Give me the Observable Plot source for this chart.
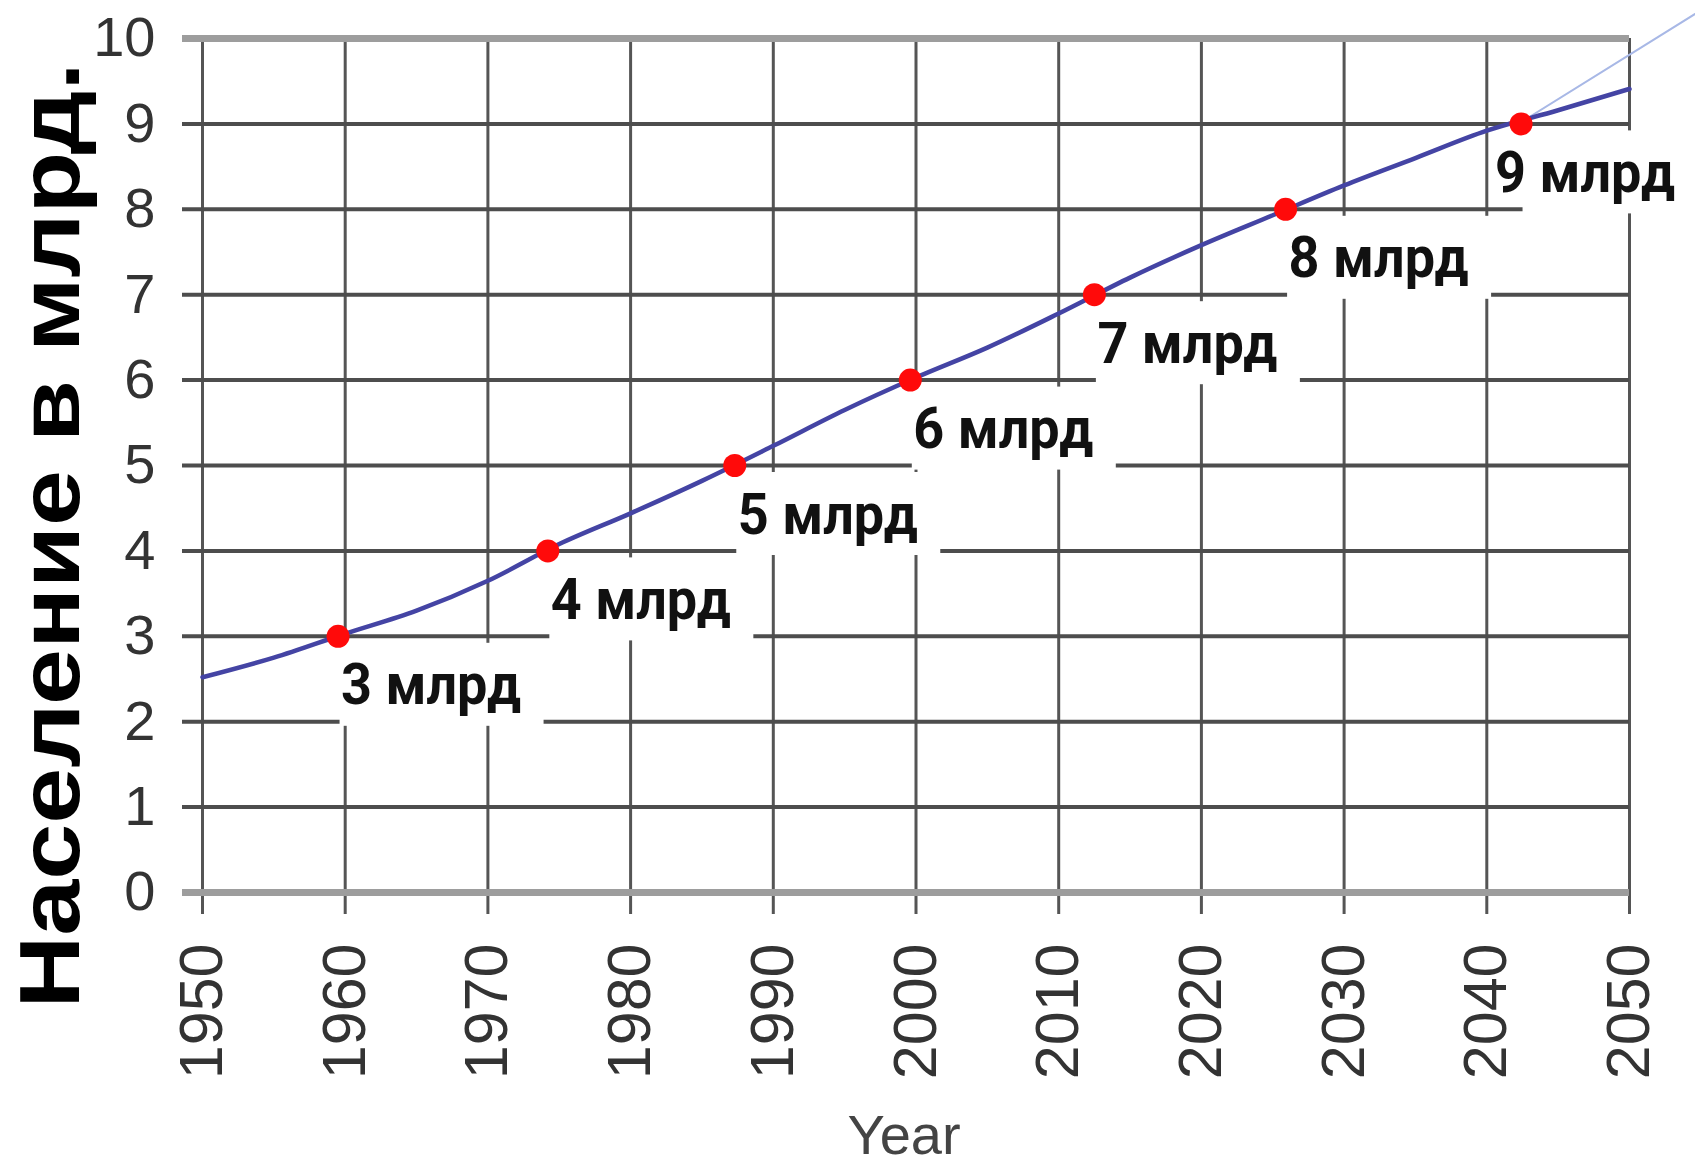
<!DOCTYPE html>
<html>
<head>
<meta charset="utf-8">
<script src="https://cdn.jsdelivr.net/npm/d3@7"></script>
<script src="https://cdn.jsdelivr.net/npm/@observablehq/plot@0.6"></script>
<style>
  html, body { margin: 0; padding: 0; background: #fff; }
  #chart svg { display: block; }
</style>
</head>
<body>
<div id="chart"></div>
<script>
// ---- data ----
const years = [1950, 1955, 1960, 1965, 1970, 1975, 1980, 1985, 1990, 1995, 2000,
               2005, 2010, 2015, 2020, 2025, 2030, 2035, 2040, 2045, 2050];
const population = [2.52, 2.75, 3.03, 3.3, 3.65, 4.08, 4.44, 4.82, 5.23, 5.65, 6.03,
                    6.38, 6.78, 7.2, 7.58, 7.93, 8.28, 8.6, 8.92, 9.16, 9.41];

const projectionYears = [2042.4, 2055];
const projectionValues = [9.02, 10.33];

const milestoneYears = [1959.5, 1974.2, 1987.3, 1999.6, 2012.5, 2025.9, 2042.4];
const milestoneValues = [3, 4, 5, 6, 7, 8, 9];
const milestoneLabels = ["3 млрд", "4 млрд", "5 млрд", "6 млрд", "7 млрд", "8 млрд", "9 млрд"];

const xTicks = [1950, 1960, 1970, 1980, 1990, 2000, 2010, 2020, 2030, 2040, 2050];
const yTicks = [0, 1, 2, 3, 4, 5, 6, 7, 8, 9, 10];
const yTitle = "Население в млрд.";
const xTitle = "Year";

// ---- tables built from the arrays ----
const series = years.map((y, i) => ({year: y, value: population[i]}));
const projection = projectionYears.map((y, i) => ({year: y, value: projectionValues[i]}));
const milestones = milestoneYears.map((y, i) => ({year: y, value: milestoneValues[i], label: milestoneLabels[i]}));
const innerY = yTicks.filter(v => v !== 0 && v !== 10);
const outerY = yTicks.filter(v => v === 0 || v === 10);
const lastValue = d3.max(milestoneValues);

const font = "'Liberation Sans', Arial, sans-serif";
const labelStyle = {x: "year", y: "value", text: "label", textAnchor: "start", lineAnchor: "bottom",
  dy: 68, fontSize: 58, fontWeight: "bold", fill: "#111", fontFamily: "Roboto, sans-serif"};

const chart = Plot.plot({
  width: 1695,
  height: 1164,
  marginLeft: 202,
  marginRight: 66,
  marginTop: 38,
  marginBottom: 272,
  style: {fontFamily: font, background: "#fff", overflow: "visible"},
  x: {domain: [1950, 2050]},
  y: {domain: [0, 10]},
  marks: [
    // grid
    Plot.ruleX(xTicks, {stroke: "#555", strokeWidth: 3, insetBottom: -22}),
    Plot.ruleY(innerY, {stroke: "#4d4d4d", strokeWidth: 4, insetLeft: -20}),
    Plot.ruleY(outerY, {stroke: "#9d9d9d", strokeWidth: 7, insetLeft: -20}),
    // white boxes behind labels
    Plot.rect(milestones, {x1: "year", x2: "year", y1: "value", y2: "value", fill: "white",
      insetLeft: 2, insetRight: -206, insetTop: 7, insetBottom: -90}),
    // axes
    Plot.axisY({ticks: yTicks, tickSize: 0, tickPadding: 47, fontSize: 56, fill: "#333",
      tickFormat: d => String(d), label: null}),
    Plot.axisX({ticks: xTicks, tickSize: 0, tickPadding: 51, fontSize: 61, fill: "#333",
      tickRotate: -90, tickFormat: d => String(d), label: null}),
    // lines
    Plot.line(projection, {x: "year", y: "value", stroke: "#a8b8e6", strokeWidth: 2}),
    Plot.line(series, {x: "year", y: "value", stroke: "#4444a4", strokeWidth: 4.5, curve: "monotone-x"}),
    Plot.dot(milestones, {x: "year", y: "value", r: 11.5, fill: "#ff0a0a", stroke: "none"}),
    Plot.text(milestones, {...labelStyle, filter: d => d.value < lastValue, dx: 3}),
    Plot.text(milestones, {...labelStyle, filter: d => d.value === lastValue, dx: -26}),
    // titles
    Plot.text([yTitle], {frameAnchor: "left", rotate: -90, textAnchor: "middle", lineAnchor: "bottom",
      dx: -124, dy: 70, fontSize: 86, fontWeight: "bold", fill: "#000", fontFamily: font}),
    Plot.text([xTitle], {frameAnchor: "bottom", textAnchor: "middle", lineAnchor: "bottom",
      dx: -12, dy: 261, fontSize: 56, fill: "#444", fontFamily: font})
  ]
});

// stretch / condense texts to the lengths they have in the reference
for (const t of chart.querySelectorAll("text")) {
  if (t.textContent === yTitle) {
    t.setAttribute("textLength", "946");
    t.setAttribute("lengthAdjust", "spacingAndGlyphs");
  } else if (milestoneLabels.includes(t.textContent)) {
    t.setAttribute("textLength", "180");
    t.setAttribute("lengthAdjust", "spacingAndGlyphs");
  }
}

document.getElementById("chart").appendChild(chart);
</script>
</body>
</html>
